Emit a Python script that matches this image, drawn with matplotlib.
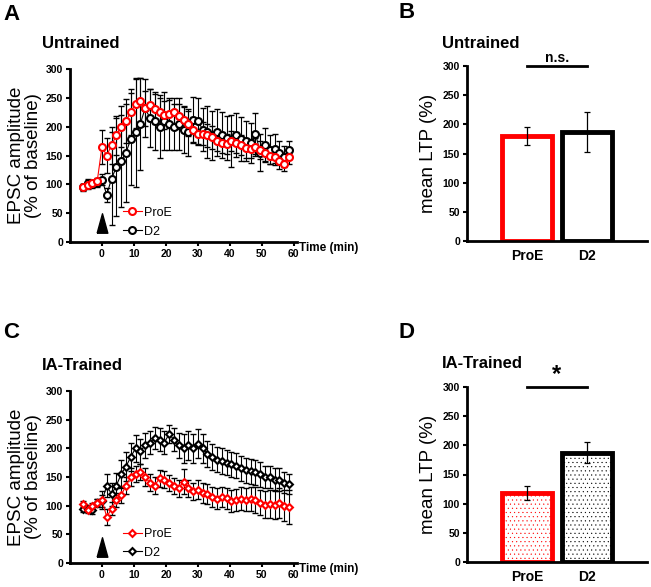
import numpy as np
import matplotlib.pyplot as plt

plt.rcParams['font.family'] = ['Liberation Sans', 'DejaVu Sans']
plt.rcParams['hatch.linewidth'] = 0.3

# time points (min)
t = np.arange(-6, 59, 1.5)

# panel A - untrained
a_proe = [95, 98, 102, 105, 165, 150, 168, 185, 200, 210, 225, 240, 245, 232, 237,
          230, 225, 220, 222, 225, 218, 212, 205, 195, 188, 188, 185, 182, 175, 172,
          170, 175, 172, 168, 163, 162, 165, 160, 155, 150, 148, 140, 135, 148]
a_proe_err = [5, 6, 6, 6, 30, 30, 32, 34, 36, 38, 40, 42, 40, 30, 28,
              26, 25, 24, 25, 24, 22, 22, 22, 22, 20, 20, 20, 20, 18, 18,
              18, 18, 18, 17, 17, 17, 16, 16, 15, 15, 14, 14, 12, 12]
a_d2 = [95, 103, 100, 103, 108, 82, 110, 130, 140, 155, 178, 190, 205, 232, 215,
        210, 200, 210, 205, 200, 205, 195, 190, 212, 210, 195, 190, 185, 190, 185,
        180, 175, 185, 178, 175, 172, 188, 155, 168, 160, 162, 155, 148, 160]
a_d2_err = [6, 6, 6, 7, 10, 12, 80, 85, 80, 85, 80, 95, 80, 50, 50,
            50, 55, 50, 45, 40, 45, 40, 40, 40, 40, 38, 45, 42, 40, 40,
            38, 45, 38, 38, 35, 35, 35, 32, 30, 25, 25, 20, 18, 15]

# panel C - IA-trained
c_proe = [103, 92, 100, 105, 110, 80, 95, 110, 118, 135, 150, 155, 158, 150, 140,
          135, 148, 145, 140, 135, 130, 142, 130, 125, 128, 122, 120, 115, 112, 115,
          113, 108, 110, 112, 110, 112, 110, 105, 102, 103, 102, 105, 100, 98]
c_proe_err = [5, 5, 5, 6, 15, 14, 12, 12, 14, 15, 15, 14, 14, 15, 15,
              15, 15, 15, 14, 14, 15, 22, 15, 15, 16, 17, 17, 17, 18, 18,
              18, 19, 19, 20, 20, 21, 22, 22, 23, 24, 25, 26, 27, 30]
c_d2 = [95, 95, 92, 105, 108, 135, 120, 135, 155, 168, 185, 200, 195, 205, 210,
        218, 215, 210, 225, 215, 205, 200, 205, 200, 208, 200, 190, 185, 180, 178,
        175, 172, 170, 165, 162, 160, 158, 155, 150, 150, 145, 145, 140, 138]
c_d2_err = [6, 6, 6, 7, 10, 20, 20, 22, 24, 25, 25, 24, 22, 22, 20,
            20, 20, 20, 15, 20, 22, 25, 25, 25, 25, 25, 22, 22, 22, 22,
            22, 22, 22, 22, 22, 22, 22, 22, 20, 20, 20, 20, 18, 18]

# bar panels
groups = ['ProE', 'D2']
b_mean = [180, 187]
b_err = [16, 35]
d_mean = [119, 187]
d_err = [12, 18]

W, H = 651, 587
fig = plt.figure(figsize=(W / 100, H / 100), dpi=100)

# tall narrow arrowhead marking the stimulus
arrow = [(-0.55, -1), (0.55, -1), (0, 1), (-0.55, -1)]


def box(l, r, top, bot):
    return [l / W, 1 - bot / H, (r - l) / W, (bot - top) / H]


def style(ax):
    for s in ['top', 'right']:
        ax.spines[s].set_visible(False)
    for s in ['left', 'bottom']:
        ax.spines[s].set_linewidth(2)
    ax.tick_params(width=1.5, length=3, labelsize=7.5, pad=2)
    for lab in ax.get_xticklabels() + ax.get_yticklabels():
        lab.set_fontweight('bold')


def time_panel(rect, proe, proe_err, d2, d2_err, marker, ms, arrow_y):
    ax = fig.add_axes(rect)
    ax.errorbar(t, d2, yerr=d2_err, fmt='none', ecolor='black', elinewidth=0.8,
                capsize=2, zorder=2)
    ax.errorbar(t, proe, yerr=proe_err, fmt='none', ecolor='black', elinewidth=0.8,
                capsize=2, zorder=2)
    ax.plot(t, d2, color='black', marker=marker, ms=ms, mfc='white', mec='black',
            mew=1.5, lw=0.8, label='D2', zorder=3)
    ax.plot(t, proe, color='red', marker=marker, ms=ms, mfc='white', mec='red',
            mew=1.5, lw=0.8, label='ProE', zorder=4)
    ax.plot(0, arrow_y, marker=arrow, color='black', ms=14, clip_on=False)
    ax.set_xlim(-10, 61)
    ax.set_ylim(0, 300)
    ax.set_xticks(range(0, 61, 10))
    ax.set_yticks(range(0, 301, 50))
    style(ax)
    h, l = ax.get_legend_handles_labels()
    ax.legend([h[1], h[0]], [l[1], l[0]], loc='upper left', bbox_to_anchor=(0.205, 0.24),
              frameon=False, fontsize=9, handlelength=1.5, handletextpad=0.2,
              labelspacing=0.55, borderpad=0)
    ax.set_ylabel('EPSC amplitude\n(% of baseline)', fontsize=13.5, labelpad=3,
                  linespacing=1.0)
    ax.text(1.01, -0.035, 'Time (min)', transform=ax.transAxes, fontsize=8.5,
            fontweight='bold', va='center', ha='left')
    return ax


def bar_panel(rect, mean, err, hatch, sig, sig_size):
    ax = fig.add_axes(rect)
    for i, (m, e, c) in enumerate(zip(mean, err, ['red', 'black'])):
        ax.bar(i + 1, m, width=0.82, facecolor='white', edgecolor=c, lw=3.5,
               hatch=hatch, zorder=2)
        ax.errorbar(i + 1, m, yerr=e, color='black', elinewidth=0.9, capsize=2.5,
                    capthick=0.9, zorder=3)
    ax.set_xlim(0, 3)
    ax.set_ylim(0, 300)
    ax.set_xticks([1, 2])
    ax.set_xticklabels(groups)
    ax.set_yticks(range(0, 301, 50))
    style(ax)
    ax.tick_params(axis='x', length=0, labelsize=10, pad=6)
    ax.set_ylabel('mean LTP (%)', fontsize=13.5, labelpad=4)
    ax.plot([1, 2], [300, 300], color='black', lw=2, clip_on=False)
    ax.text(1.5, 302, sig, ha='center', va='bottom', fontsize=sig_size,
            fontweight='bold')
    return ax


time_panel(box(70, 297, 69, 242), a_proe, a_proe_err, a_d2, a_d2_err, 'o', 5, 33)
time_panel(box(70, 297, 391, 563), c_proe, c_proe_err, c_d2, c_d2_err, 'D', 3.5, 28)
bar_panel(box(467, 647, 66, 241), b_mean, b_err, None, 'n.s.', 10)
bar_panel(box(467, 647, 387, 562), d_mean, d_err, '....', '*', 17)

for title, x, y in [('Untrained', 42, 43), ('Untrained', 442, 43),
                    ('IA-Trained', 42, 365), ('IA-Trained', 442, 363)]:
    fig.text(x / W, 1 - y / H, title, fontsize=12, fontweight='bold', va='center')

for letter, x, y in [('A', 3, 14), ('B', 398, 13), ('C', 3, 333), ('D', 398, 333)]:
    fig.text(x / W, 1 - y / H, letter, fontsize=16, fontweight='bold', va='center')

fig.savefig('out.png', dpi=100)
